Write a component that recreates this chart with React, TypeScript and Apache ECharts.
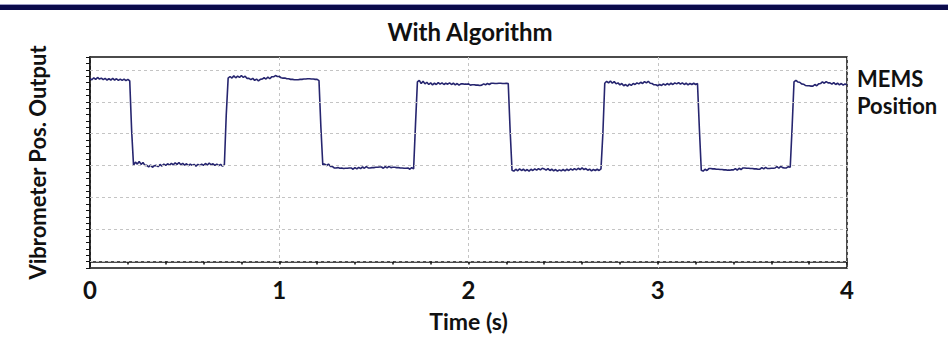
import React, { useEffect, useRef } from "react";
import * as echarts from "echarts";

// Time axis ticks (s) and y grid levels (arbitrary vibrometer units)
const timeTicks = [0, 1, 2, 3, 4];
const gridLevels = [0, 1, 2, 3, 4, 5, 6];
const sampleStep = 0.01; // s between samples, samples start at t = 0

// Vibrometer position output, one row per 0.1 s (10 samples each)
const vibrometer = [
  5.72, 5.69, 5.75, 5.70, 5.76, 5.71, 5.74, 5.69, 5.73, 5.68,
  5.72, 5.68, 5.73, 5.68, 5.72, 5.67, 5.71, 5.67, 5.71, 5.66,
  5.70, 5.65, 4.10, 3.01, 3.11, 3.05, 3.13, 3.04, 3.10, 3.01,
  3.01, 2.96, 3.02, 2.95, 3.00, 3.01, 2.97, 3.04, 2.99, 3.05,
  3.01, 3.06, 3.02, 3.07, 3.03, 3.09, 3.04, 3.10, 3.03, 3.07,
  3.02, 3.06, 3.00, 3.05, 3.01, 3.04, 2.99, 3.04, 3.00, 3.05,
  3.01, 3.07, 3.02, 3.08, 3.03, 3.06, 3.01, 3.05, 3.00, 3.04,
  2.99, 3.02, 4.60, 5.74, 5.79, 5.74, 5.81, 5.75, 5.80, 5.76,
  5.82, 5.76, 5.80, 5.73, 5.73, 5.69, 5.73, 5.67, 5.71, 5.65,
  5.70, 5.71, 5.75, 5.71, 5.77, 5.72, 5.78, 5.78, 5.82, 5.79,
  5.79, 5.75, 5.74, 5.74, 5.72, 5.72, 5.70, 5.70, 5.69, 5.69,
  5.69, 5.70, 5.70, 5.71, 5.71, 5.72, 5.72, 5.71, 5.71, 5.70,
  5.70, 5.66, 4.20, 3.03, 3.05, 3.00, 3.05, 2.98, 2.98, 2.93,
  2.93, 2.94, 2.92, 2.93, 2.91, 2.92, 2.92, 2.93, 2.93, 2.89,
  2.94, 2.90, 2.95, 2.91, 2.96, 2.92, 2.97, 2.93, 2.93, 2.94,
  2.94, 2.95, 2.95, 2.96, 2.96, 2.92, 2.97, 2.93, 2.98, 2.94,
  2.95, 2.95, 2.94, 2.94, 2.93, 2.93, 2.92, 2.92, 2.93, 2.89,
  2.94, 2.90, 4.30, 5.62, 5.67, 5.57, 5.64, 5.56, 5.61, 5.54,
  5.59, 5.53, 5.58, 5.54, 5.60, 5.55, 5.59, 5.54, 5.58, 5.55,
  5.59, 5.54, 5.58, 5.53, 5.57, 5.52, 5.56, 5.56, 5.55, 5.55,
  5.56, 5.52, 5.53, 5.53, 5.52, 5.52, 5.51, 5.52, 5.56, 5.53,
  5.57, 5.54, 5.58, 5.58, 5.57, 5.57, 5.58, 5.58, 5.57, 5.57,
  5.58, 5.57, 4.10, 2.86, 2.83, 2.89, 2.84, 2.90, 2.85, 2.89,
  2.84, 2.88, 2.83, 2.89, 2.85, 2.90, 2.86, 2.91, 2.87, 2.92,
  2.90, 2.86, 2.91, 2.85, 2.89, 2.84, 2.88, 2.83, 2.87, 2.84,
  2.88, 2.84, 2.89, 2.85, 2.90, 2.86, 2.91, 2.87, 2.92, 2.88,
  2.93, 2.88, 2.91, 2.86, 2.89, 2.84, 2.88, 2.85, 2.89, 2.85,
  2.90, 4.00, 5.58, 5.64, 5.59, 5.65, 5.58, 5.63, 5.56, 5.59,
  5.53, 5.57, 5.50, 5.54, 5.49, 5.55, 5.51, 5.57, 5.54, 5.59,
  5.56, 5.61, 5.57, 5.63, 5.59, 5.64, 5.58, 5.57, 5.53, 5.53,
  5.50, 5.54, 5.51, 5.56, 5.52, 5.57, 5.53, 5.58, 5.54, 5.59,
  5.56, 5.60, 5.55, 5.59, 5.54, 5.58, 5.53, 5.57, 5.54, 5.58,
  5.54, 5.57, 4.15, 2.86, 2.83, 2.89, 2.85, 2.91, 2.91, 2.90,
  2.90, 2.89, 2.89, 2.88, 2.88, 2.87, 2.87, 2.86, 2.86, 2.87,
  2.87, 2.91, 2.86, 2.92, 2.88, 2.93, 2.93, 2.92, 2.92, 2.91,
  2.91, 2.90, 2.90, 2.89, 2.89, 2.94, 2.90, 2.95, 2.91, 2.91,
  2.92, 2.92, 2.93, 2.97, 2.92, 2.98, 2.94, 2.93, 2.93, 2.97,
  2.95, 4.20, 5.62, 5.67, 5.62, 5.61, 5.56, 5.55, 5.51, 5.50,
  5.50, 5.49, 5.49, 5.54, 5.50, 5.56, 5.57, 5.62, 5.58, 5.63,
  5.59, 5.59, 5.55, 5.60, 5.54, 5.58, 5.53, 5.57, 5.52, 5.56,
  5.52,
];

const FONT = "Lato";

export default function App() {
  const ref = useRef<HTMLDivElement>(null);

  useEffect(() => {
    document.body.style.margin = "0";
    const chart = echarts.init(ref.current!, undefined, { renderer: "svg" });
    const points = vibrometer.map((v, i) => [
      Math.round(i * sampleStep * 100) / 100,
      v,
    ]);
    const gridStyle = { color: "#c4c4c4", width: 1, type: [3, 3] as any };

    chart.setOption({
      animation: false,
      backgroundColor: "#ffffff",
      grid: {
        left: 90,
        right: 101,
        top: 57,
        bottom: 66,
        show: true,
        borderColor: "#111111",
        borderWidth: 1.5,
        containLabel: false,
      },
      xAxis: {
        type: "value",
        min: 0,
        max: 4,
        interval: 1,
        name: "Time (s)",
        nameLocation: "middle",
        nameGap: 41,
        nameTextStyle: {
          fontFamily: FONT,
          fontWeight: "bold",
          fontSize: 23,
          color: "#111",
        },
        axisLine: { show: true, lineStyle: { color: "#111", width: 1.5 } },
        axisTick: { show: true, length: 3, lineStyle: { color: "#111", width: 1.5 } },
        minorTick: { show: true, splitNumber: 5, length: 3, lineStyle: { color: "#111", width: 1.5 } },
        axisLabel: {
          margin: 9,
          fontFamily: FONT,
          fontWeight: "bold",
          fontSize: 24,
          color: "#111",
          formatter: (v: number) => (timeTicks.includes(v) ? String(v) : ""),
        },
        splitLine: { show: true, lineStyle: gridStyle },
      },
      yAxis: {
        type: "value",
        min: -0.2,
        max: 6.4,
        interval: 0.2,
        name: "Vibrometer Pos. Output",
        nameLocation: "middle",
        nameGap: 42,
        nameTextStyle: {
          fontFamily: FONT,
          fontWeight: "bold",
          fontSize: 22,
          color: "#111",
        },
        axisLine: { show: true, lineStyle: { color: "#111", width: 1.5 } },
        axisTick: { show: true, length: 4, lineStyle: { color: "#111", width: 1 } },
        axisLabel: { show: false },
        splitLine: { show: false },
      },
      title: {
        text: "With Algorithm",
        left: 465,
        top: 14,
        textAlign: "center",
        textStyle: {
          fontFamily: FONT,
          fontWeight: "bold",
          fontSize: 24,
          color: "#111",
        },
      },
      graphic: [
        { type: "rect", shape: { x: 0, y: 4, width: 948, height: 1 }, style: { fill: "#9c9cc6" } },
        { type: "rect", shape: { x: 0, y: 5, width: 948, height: 5 }, style: { fill: "#0b0b4c" } },
        {
          type: "text",
          left: 857,
          top: 65,
          style: {
            text: "MEMS\nPosition",
            fontFamily: FONT,
            fontWeight: "bold",
            fontSize: 22,
            lineHeight: 27,
            fill: "#111",
          },
        },
      ],
      series: [
        {
          type: "line",
          data: [],
          z: 1,
          silent: true,
          markLine: {
            silent: true,
            symbol: ["none", "none"],
            label: { show: false },
            lineStyle: gridStyle,
            data: gridLevels.map((g) => ({ yAxis: g })),
          },
        },
        {
          type: "line",
          name: "MEMS Position",
          data: points,
          z: 3,
          showSymbol: false,
          symbol: "none",
          lineStyle: { color: "#26256f", width: 1.6 },
        },
      ],
    });
    return () => chart.dispose();
  }, []);

  return <div ref={ref} style={{ width: 948, height: 337 }} />;
}
